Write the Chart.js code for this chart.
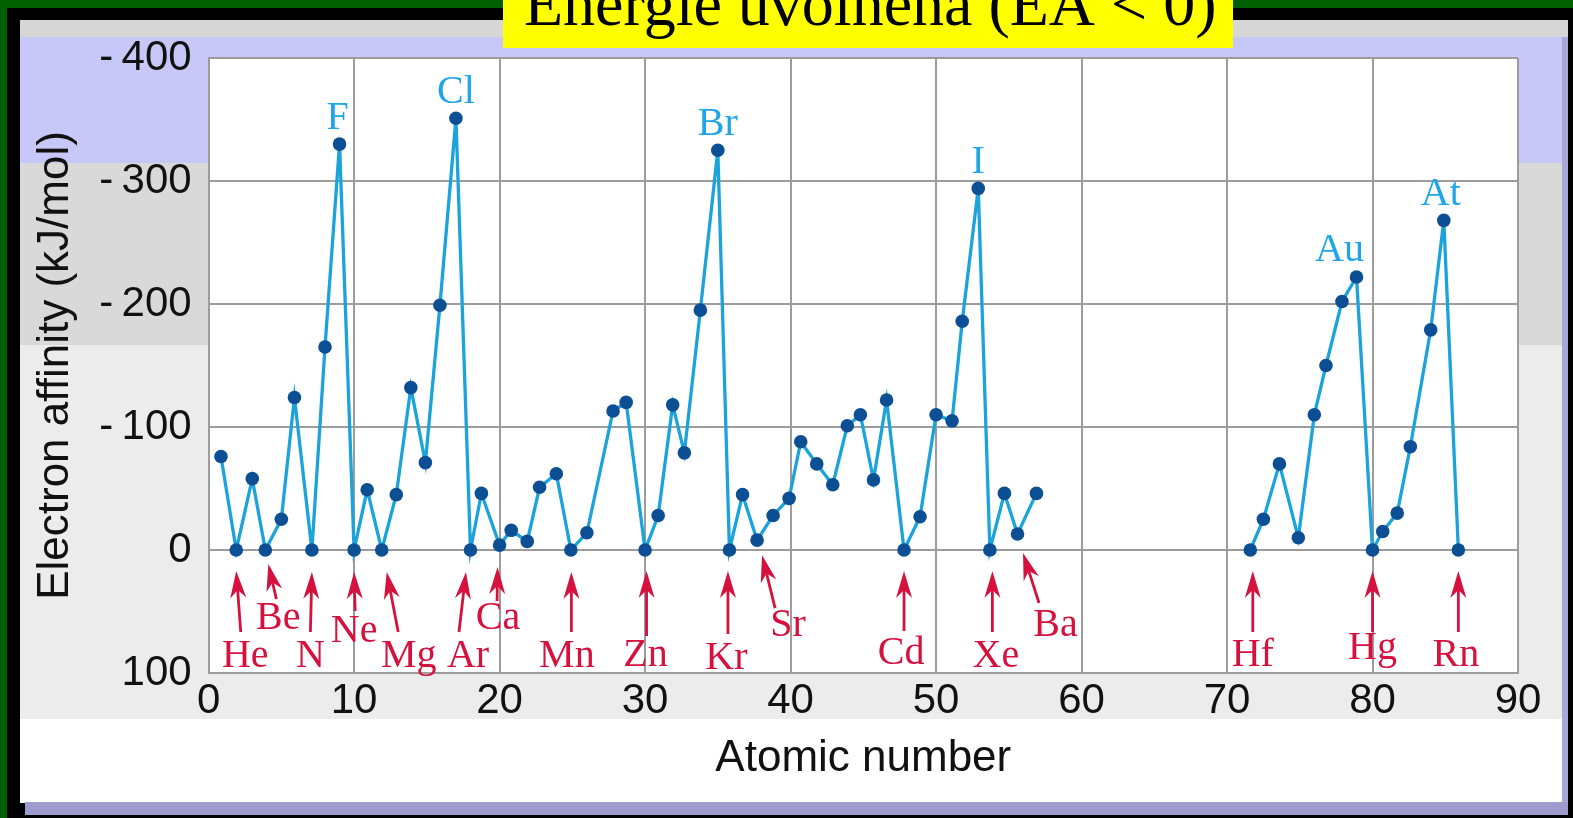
<!DOCTYPE html>
<html>
<head>
<meta charset="utf-8">
<title>Electron affinity</title>
<script src="https://cdn.jsdelivr.net/npm/chart.js@4.4.1/dist/chart.umd.min.js"></script>
<style>
  html, body { margin: 0; padding: 0; background: #006000; overflow: hidden; }
</style>
</head>
<body>
<canvas id="eaChart" width="1573" height="818"></canvas>
<script>
// element symbols, in order along the curve (Co is not plotted in the original)
var symbols = ['H', 'He', 'Li', 'Be', 'B', 'C', 'N', 'O', 'F', 'Ne',
  'Na', 'Mg', 'Al', 'Si', 'P', 'S', 'Cl', 'Ar',
  'K', 'Ca', 'Sc', 'Ti', 'V', 'Cr', 'Mn', 'Fe', 'Ni', 'Cu', 'Zn',
  'Ga', 'Ge', 'As', 'Se', 'Br', 'Kr',
  'Rb', 'Sr', 'Y', 'Zr', 'Nb', 'Mo', 'Tc', 'Ru', 'Rh', 'Pd', 'Ag', 'Cd',
  'In', 'Sn', 'Sb', 'Te', 'I', 'Xe',
  'Cs', 'Ba', 'La',
  'Hf', 'Ta', 'W', 'Re', 'Os', 'Ir', 'Pt', 'Au', 'Hg',
  'Tl', 'Pb', 'Bi', 'Po', 'At', 'Rn'];

// x position of each point
var atomicNumbers = [0.85, 1.9, 3.0, 3.9, 5.0, 5.9, 7.1, 8.0, 9.0, 10.0,
  10.9, 11.9, 12.9, 13.9, 14.9, 15.9, 17.0, 18.0,
  18.75, 20.0, 20.8, 21.9, 22.75, 23.9, 24.9, 26.0, 27.8, 28.7, 30.0,
  30.9, 31.9, 32.7, 33.8, 35.0, 35.8,
  36.7, 37.7, 38.8, 39.9, 40.7, 41.8, 42.9, 43.9, 44.8, 45.7, 46.6, 47.8,
  48.9, 50.0, 51.1, 51.8, 52.9, 53.7,
  54.7, 55.6, 56.9,
  71.6, 72.5, 73.6, 74.9, 76.0, 76.8, 77.9, 78.9, 80.0,
  80.7, 81.7, 82.6, 84.0, 84.9, 85.9];

// electron affinity, kJ/mol
var affinities = [-76, 0, -58, 0, -25, -124, 0, -165, -330, 0,
  -49, 0, -45, -132, -71, -199, -351, 0,
  -46, -4, -16, -7, -51, -62, 0, -14, -113, -120, 0,
  -28, -118, -79, -195, -325, 0,
  -45, -8, -28, -42, -88, -70, -53, -101, -110, -57, -122, 0,
  -27, -110, -105, -186, -294, 0,
  -46, -13, -46,
  0, -25, -70, -10, -110, -150, -202, -222, 0,
  -15, -30, -84, -179, -268, 0];

var peakLabels = ['F', 'Cl', 'Br', 'I', 'Au', 'At'];
var lowLabels = ['He', 'Be', 'N', 'Ne', 'Mg', 'Ar', 'Ca', 'Mn', 'Zn', 'Kr', 'Sr', 'Cd', 'Xe', 'Ba', 'Hf', 'Hg', 'Rn'];

var xTickValues = [0, 10, 20, 30, 40, 50, 60, 70, 80, 90];
var yTickValues = [-400, -300, -200, -100, 0, 100];

var titleText = 'Energie uvolněna (EA < 0)';

// pixel nudges for the annotations (tip dx,dy / tail dx,dy / text dx,dy from the point)
var arrowLayout = {
  He: [0, 21, 4.5, 82, 9, 117],
  Be: [3, 14, 11, 49, 13, 79],
  N: [0, 22, -1.5, 82, -1.5, 117],
  Ne: [0, 22, 1, 61, 0, 92],
  Mg: [5, 22, 16.5, 82, 27, 117],
  Ar: [-4.5, 22, -11.5, 82, -2.5, 117],
  Ca: [-2, 22, -2.5, 56, -1.5, 84],
  Mn: [0.5, 22, 0.5, 82, -4, 117],
  Zn: [1.5, 21, 1.5, 86, 0.5, 116],
  Kr: [-1.5, 21, -1.5, 84, -3, 119],
  Sr: [5, 15, 18, 68, 31, 96],
  Cd: [0, 21, 0, 81, -3, 114],
  Xe: [2.5, 21, 2.5, 82, 6, 117],
  Ba: [5.5, 19, 21.5, 69, 38, 102],
  Hf: [2.5, 21, 2.5, 82, 2.5, 116],
  Hg: [0, 21, 0, 82, 0, 109],
  Rn: [0, 21, 0, 82, -2.5, 116]
};
var peakShift = { F: -2, Au: -17, At: -3 };

var points = atomicNumbers.map(function (z, i) {
  return { x: z, y: affinities[i] };
});

function rect(c, col, x, y, w, h) {
  c.fillStyle = col;
  c.fillRect(x, y, w, h);
}

// frame, colour bands and the yellow heading
var backdrop = {
  id: 'backdrop',
  beforeDraw: function (chart) {
    var c = chart.ctx;
    var a = chart.chartArea;
    c.save();
    rect(c, '#006000', 0, 0, 1573, 818);
    rect(c, '#000000', 7, 8, 1566, 810);
    rect(c, '#d6d6d6', 20, 20, 1548, 18);
    rect(c, '#c8c8f8', 20, 37, 1542, 127);
    rect(c, '#d9d9d9', 20, 163, 1542, 183);
    rect(c, '#ececec', 20, 345, 1542, 374);
    rect(c, '#ffffff', 20, 719, 1542, 84);
    rect(c, '#a9a7da', 1562, 37, 6, 778);
    rect(c, '#9e9ccf', 25, 802, 1543, 13);
    rect(c, '#ffffff', a.left, a.top, a.right - a.left, a.bottom - a.top);
    c.restore();
  },
  afterDraw: function (chart) {
    var c = chart.ctx;
    c.save();
    rect(c, '#ffff00', 503, 0, 730, 48);
    c.beginPath();
    c.rect(503, 0, 730, 48);
    c.clip();
    c.fillStyle = '#000';
    c.font = '64px "Liberation Serif", "Times New Roman", serif';
    c.textBaseline = 'alphabetic';
    c.fillText(titleText, 524, 25);
    c.restore();
  }
};

function drawArrow(c, x1, y1, x2, y2) {
  var ang = Math.atan2(y2 - y1, x2 - x1);
  var headLen = 27, half = 8, notch = 19;
  c.beginPath();
  c.moveTo(x1, y1);
  c.lineTo(x2 - Math.cos(ang) * notch, y2 - Math.sin(ang) * notch);
  c.stroke();
  c.save();
  c.translate(x2, y2);
  c.rotate(ang);
  c.beginPath();
  c.moveTo(0, 0);
  c.lineTo(-headLen, -half);
  c.lineTo(-notch, 0);
  c.lineTo(-headLen, half);
  c.closePath();
  c.fill();
  c.restore();
}

// element names on the peaks and arrows under the minima
var elementNotes = {
  id: 'elementNotes',
  afterDatasetsDraw: function (chart) {
    var c = chart.ctx;
    var xs = chart.scales.x, ys = chart.scales.y;
    c.save();
    c.font = '40px "Liberation Serif", "Times New Roman", serif';
    c.textAlign = 'center';
    c.textBaseline = 'alphabetic';

    c.fillStyle = '#1fa6e8';
    peakLabels.forEach(function (s) {
      var i = symbols.indexOf(s);
      var px = xs.getPixelForValue(atomicNumbers[i]);
      var py = ys.getPixelForValue(affinities[i]);
      c.fillText(s, px + (peakShift[s] || 0), py - 15.5);
    });

    c.fillStyle = '#d5123e';
    c.strokeStyle = '#d5123e';
    c.lineWidth = 2.8;
    lowLabels.forEach(function (s) {
      var i = symbols.indexOf(s);
      var px = xs.getPixelForValue(atomicNumbers[i]);
      var py = ys.getPixelForValue(affinities[i]);
      var L = arrowLayout[s];
      drawArrow(c, px + L[2], py + L[3], px + L[0], py + L[1]);
      c.fillText(s, px + L[4], py + L[5]);
    });
    c.restore();
  }
};

function yLabel(v) {
  if (v < 0) return '-\u2009' + Math.abs(v);
  return String(v);
}

Chart.defaults.font.family = '"Liberation Sans", Arial, sans-serif';
Chart.defaults.color = '#111';

var ctx = document.getElementById('eaChart');
var eaChart = new Chart(ctx, {
  type: 'line',
  data: {
    datasets: [{
      data: points,
      borderColor: '#1ba3dc',
      borderWidth: 3.3,
      pointRadius: 6.8,
      pointBackgroundColor: '#0d4f95',
      pointBorderWidth: 0,
      tension: 0,
      segment: {
        // no line across the missing lanthanides
        borderColor: function (s) {
          return s.p1.parsed.x - s.p0.parsed.x > 5 ? 'rgba(0,0,0,0)' : undefined;
        }
      }
    }]
  },
  options: {
    responsive: false,
    animation: false,
    layout: { padding: { left: 20, top: 58, right: 55, bottom: 0 } },
    plugins: {
      legend: { display: false },
      tooltip: { enabled: false }
    },
    scales: {
      x: {
        type: 'linear',
        min: 0,
        max: 90,
        afterFit: function (s) { s.height = 145; },
        afterBuildTicks: function (s) {
          s.ticks = xTickValues.map(function (v) { return { value: v }; });
        },
        grid: { color: '#9c9c9c', lineWidth: 2, drawTicks: false },
        border: { color: '#9c9c9c', width: 2 },
        ticks: { padding: 3, maxRotation: 0, font: { size: 42 } },
        title: {
          display: true,
          text: 'Atomic number',
          font: { size: 44 },
          padding: { top: 0, bottom: 33 }
        }
      },
      y: {
        reverse: true,
        min: -400,
        max: 100,
        afterFit: function (s) { s.width = 188.6; },
        afterBuildTicks: function (s) {
          s.ticks = yTickValues.map(function (v) { return { value: v }; });
        },
        grid: { color: '#9c9c9c', lineWidth: 2, drawTicks: false },
        border: { color: '#9c9c9c', width: 2 },
        ticks: { padding: 17, font: { size: 42 }, callback: yLabel },
        title: {
          display: true,
          text: 'Electron affinity (kJ/mol)',
          font: { size: 44 },
          padding: { top: 9, bottom: 0 }
        }
      }
    }
  },
  plugins: [backdrop, elementNotes]
});
</script>
</body>
</html>
